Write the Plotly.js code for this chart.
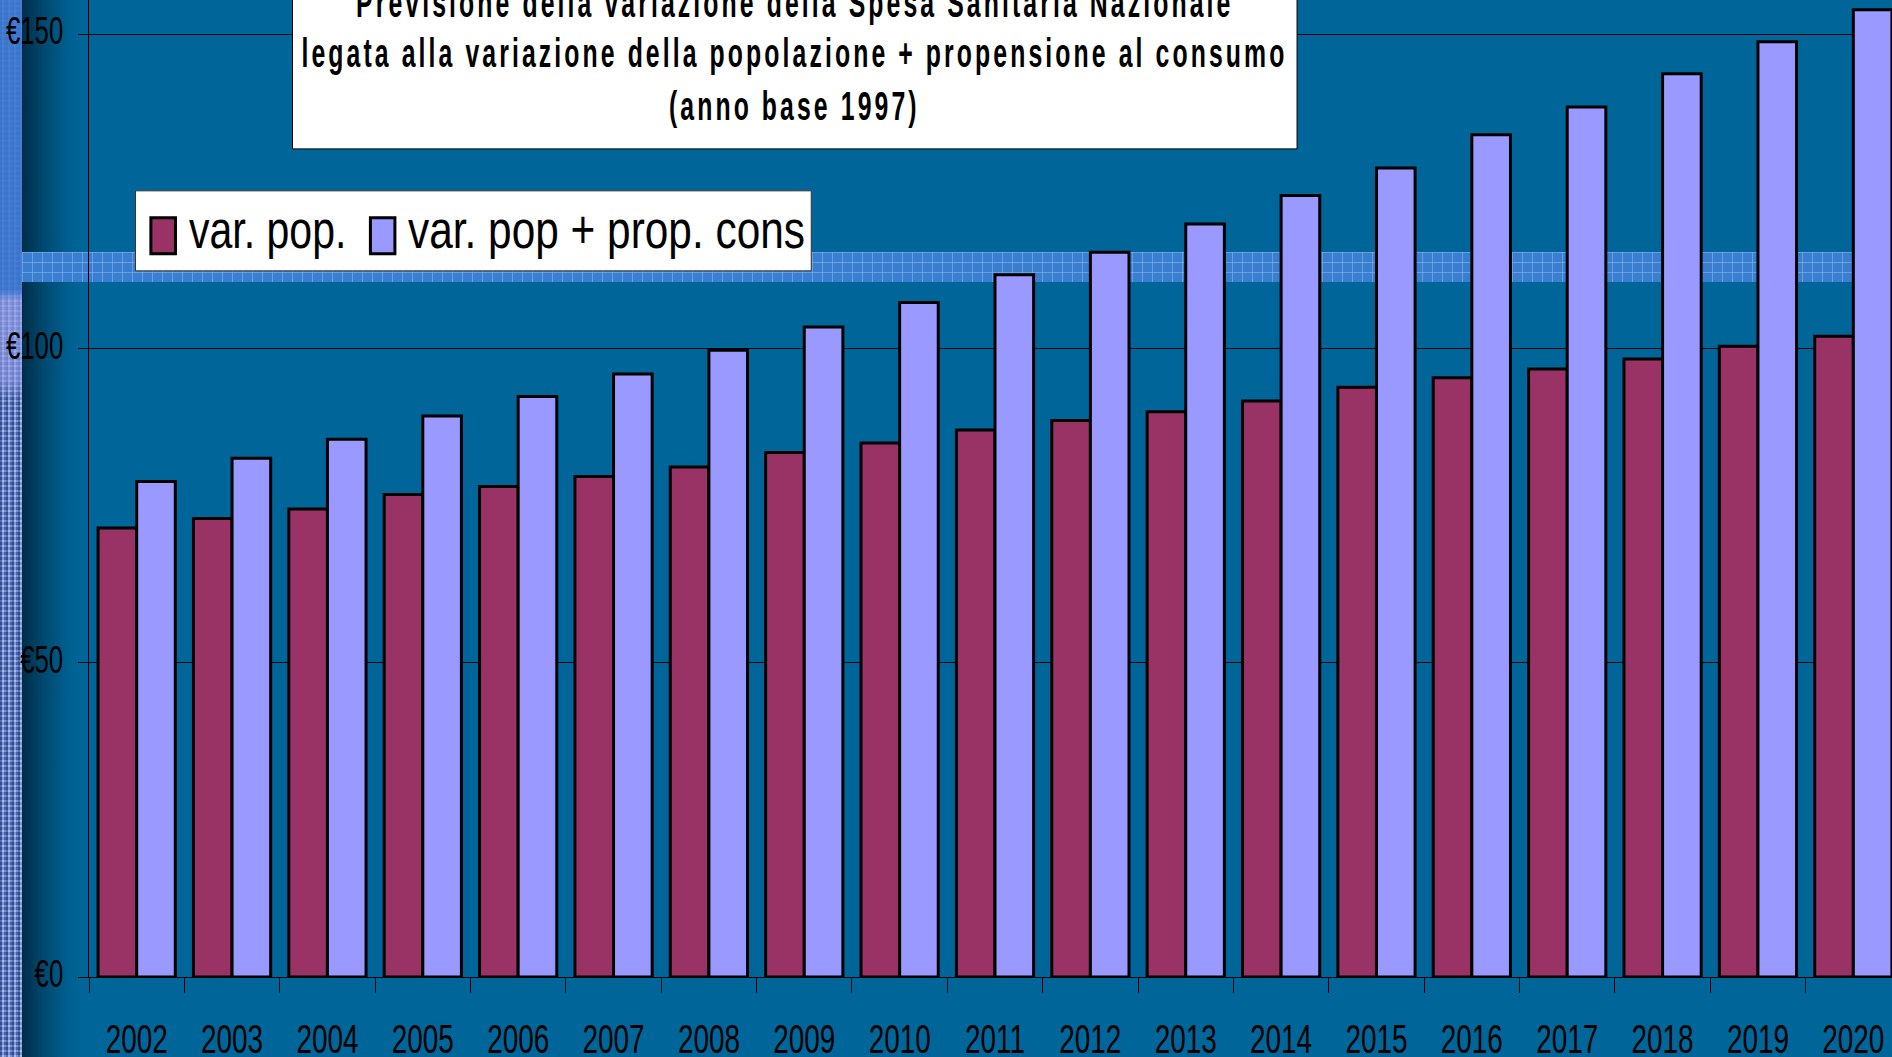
<!DOCTYPE html>
<html>
<head>
<meta charset="utf-8">
<script src="https://cdn.plot.ly/plotly-3.0.1.min.js"></script>
<style>
  html, body { margin:0; padding:0; width:1892px; height:1057px; overflow:hidden; background:#006699; }
  #strip { position:absolute; left:0; top:0; width:22px; height:1057px;
    background-color:#6585c8;
    background-image:
      linear-gradient(180deg, rgba(60,120,210,0.9) 0px, rgba(60,120,210,0.9) 290px, rgba(150,160,235,0.7) 300px, rgba(150,160,235,0.6) 380px, rgba(0,0,0,0) 400px),
      repeating-linear-gradient(90deg, rgba(20,40,110,0.45) 0px, rgba(20,40,110,0.45) 2px, rgba(190,210,255,0.45) 2px, rgba(190,210,255,0.45) 4px, rgba(60,90,170,0.3) 4px, rgba(60,90,170,0.3) 6px),
      repeating-linear-gradient(0deg, rgba(230,240,255,0.35) 0px, rgba(230,240,255,0.35) 2px, rgba(30,50,120,0.35) 2px, rgba(30,50,120,0.35) 5px);
  }
  #grad { position:absolute; left:22px; top:0; width:62px; height:1057px;
    background:linear-gradient(90deg, #002d48 0%, #00496f 35%, #006090 75%, #006699 100%); }
  #band { position:absolute; left:22px; right:0; top:252px; height:30px;
    background-color:#3a7fcf;
    background-image:
      linear-gradient(90deg, rgba(140,185,245,0.55) 1px, rgba(0,0,0,0) 1px),
      linear-gradient(180deg, rgba(140,185,245,0.55) 1px, rgba(0,0,0,0) 1px);
    background-size:10px 10px; }
  #chart { position:absolute; left:0; top:-60px; width:1950px; height:1157px; }
</style>
</head>
<body>
<div id="strip"></div>
<div id="grad"></div>
<div id="band"></div>
<div id="chart"></div>
<script>
// ---- data ----
const years = ['2002','2003','2004','2005','2006','2007','2008','2009','2010','2011','2012','2013','2014','2015','2016','2017','2018','2019','2020'];
const varPop = [71.5, 73.0, 74.5, 76.8, 78.1, 79.7, 81.2, 83.5, 85.0, 87.1, 88.6, 90.0, 91.7, 93.9, 95.4, 96.8, 98.4, 100.4, 102.0];
const varPopCons = [78.9, 82.6, 85.6, 89.3, 92.4, 96.0, 99.8, 103.5, 107.4, 111.8, 115.4, 119.9, 124.4, 128.8, 134.1, 138.5, 143.8, 148.9, 154.0];
const seriesNames = ['var. pop.', 'var. pop + prop. cons'];
const seriesColors = ['#993366', '#9999FF'];
const yTickVals = [0, 50, 100, 150];
const yTickText = ['€0', '€50', '€100', '€150'];
const titleLines = [
  'Previsione della variazione della Spesa Sanitaria Nazionale',
  'legata alla variazione della popolazione + propensione al consumo',
  '(anno base 1997)'
];

const FONT = '"Liberation Sans", Arial, sans-serif';

const traces = seriesNames.map((nm, i) => ({
  type:'bar', name:nm, x:years, y:(i === 0 ? varPop : varPopCons),
  marker:{ color:seriesColors[i], line:{ color:'#000000', width:3 } }, showlegend:false
}));

// ---- title (3 lines, letter-spaced bold) ----
const titleY = [0.9690, 0.9193, 0.8668];
const annotations = titleLines.map((t, i) => ({
  xref:'paper', yref:'paper', x:0.3895, y:titleY[i], xanchor:'center', yanchor:'middle',
  text:'<b><span style="letter-spacing:5px">' + t + '</span></b>', showarrow:false,
  font:{ family:FONT, size:40, color:'#000000' }
}));

// ---- legend (box, swatches and labels) ----
const legTextX = [0.05434, 0.17500];
seriesNames.forEach((nm, i) => annotations.push({
  xref:'paper', yref:'paper', x:legTextX[i], y:0.7440, xanchor:'left', yanchor:'middle', align:'left',
  text:nm, showarrow:false, font:{ family:FONT, size:54, color:'#000000' }
}));
const swatchX = [[0.03415, 0.04772], [0.15530, 0.16882]];
const shapes = [
  { type:'rect', xref:'paper', yref:'paper', x0:0.1123, x1:0.6667, y0:0.824, y1:1.06,
    fillcolor:'#ffffff', line:{ color:'#000000', width:1 }, layer:'above' },
  { type:'rect', xref:'paper', yref:'paper', x0:0.02565, x1:0.39860, y0:0.70263, y1:0.78225,
    fillcolor:'#ffffff', line:{ color:'#333333', width:1 }, layer:'above' }
];
swatchX.forEach((sx, i) => shapes.push({
  type:'rect', xref:'paper', yref:'paper', x0:sx[0], x1:sx[1], y0:0.71955, y1:0.75538,
  fillcolor:seriesColors[i], line:{ color:'#000000', width:3 }, layer:'above'
}));

const layout = {
  width:1950, height:1157,
  margin:{ l:88.5, r:48.9, t:32.2, b:120, pad:0 },
  paper_bgcolor:'rgba(0,0,0,0)', plot_bgcolor:'rgba(0,0,0,0)',
  barmode:'group', bargap:0.19, bargroupgap:0,
  showlegend:false,
  xaxis:{ type:'category', range:[-0.5, 18.5], tickson:'boundaries', ticks:'outside', ticklen:15,
    tickcolor:'#000000', tickwidth:1, showline:true, linecolor:'#000000', linewidth:1,
    showgrid:false, zeroline:false, automargin:false, tickangle:0, ticklabelstandoff:26,
    tickfont:{ family:FONT, size:41, color:'#000000' } },
  yaxis:{ range:[0, 160], tickmode:'array', tickvals:yTickVals, ticktext:yTickText,
    ticks:'outside', ticklen:10, tickcolor:'#000000', tickwidth:1,
    showline:true, linecolor:'#000000', linewidth:1, ticklabelstandoff:7,
    showgrid:true, gridcolor:'#000000', gridwidth:1, zeroline:false, automargin:false,
    tickfont:{ family:FONT, size:39, color:'#000000' } },
  shapes:shapes,
  annotations:annotations
};

// horizontally condense a text element about its own anchor point (optional vertical nudge)
function squeeze(el, sx, dy){
  const x = parseFloat(el.getAttribute('x')) || 0;
  const y = parseFloat(el.getAttribute('y')) || 0;
  const t = el.getAttribute('transform') || '';
  el.setAttribute('transform', t + ' translate(0,' + (dy || 0) + ') translate(' + x + ',' + y + ') scale(' + sx + ',1) translate(' + (-x) + ',' + (-y) + ')');
}

const annotSqueeze = [0.62, 0.62, 0.62, 0.76, 0.785];
Plotly.newPlot('chart', traces, layout, { displayModeBar:false, staticPlot:true }).then(gd => {
  gd.querySelectorAll('.xtick text').forEach(el => squeeze(el, 0.68, 0));
  gd.querySelectorAll('.ytick text').forEach(el => squeeze(el, 0.66, -4));
  gd.querySelectorAll('g.annotation').forEach(g => {
    const idx = parseInt(g.getAttribute('data-index'), 10);
    const txt = g.querySelector('text.annotation-text');
    if (txt) squeeze(txt, annotSqueeze[idx] || 1, 0);
  });
});
</script>
</body>
</html>
